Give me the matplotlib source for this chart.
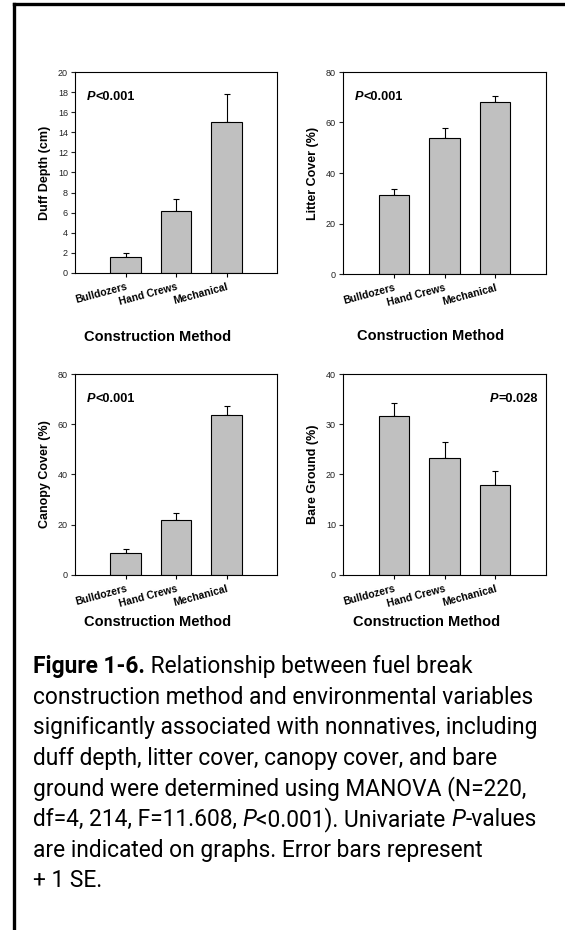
import matplotlib
matplotlib.use("Agg")
import matplotlib.pyplot as plt
from matplotlib.lines import Line2D

plt.rcParams['font.family'] = ['Liberation Sans', 'DejaVu Sans']

methods = ["Bulldozers", "Hand Crews", "Mechanical"]

duff = [1.6, 6.15, 15.05]
duff_se = [0.4, 1.22, 2.8]
litter = [31.2, 54.0, 68.1]
litter_se = [2.3, 3.8, 2.5]
canopy = [8.8, 21.7, 63.5]
canopy_se = [1.4, 3.1, 3.6]
bare = [31.7, 23.2, 18.0]
bare_se = [2.6, 3.3, 2.6]

ylabels = ["Duff Depth (cm)", "Litter Cover (%)", "Canopy Cover (%)", "Bare Ground (%)"]
ylims = [20, 80, 80, 40]
ysteps = [2, 20, 20, 10]
pvals = [("P", "<0.001"), ("P", "<0.001"), ("P", "<0.001"), ("P", "=0.028")]

caption = [
    [("Figure 1-6.", "bold", "normal"), (" Relationship between fuel break", "normal", "normal")],
    [("construction method and environmental variables", "normal", "normal")],
    [("significantly associated with nonnatives, including", "normal", "normal")],
    [("duff depth, litter cover, canopy cover, and bare", "normal", "normal")],
    [("ground were determined using MANOVA (N=220,", "normal", "normal")],
    [("df=4, 214, F=11.608, ", "normal", "normal"), ("P", "normal", "italic"),
     ("<0.001). Univariate ", "normal", "normal"), ("P", "normal", "italic"),
     ("-values", "normal", "normal")],
    [("are indicated on graphs. Error bars represent", "normal", "normal")],
    [("+ 1 SE.", "normal", "normal")],
]

W, H = 565, 930
fig = plt.figure(figsize=(W / 100, H / 100), dpi=100)
renderer = fig.canvas.get_renderer()


def draw_segments(x, y, segs, size, family, ha="left", va="center", transform=None):
    # draw text pieces one after another, measured in pixels
    tr = transform if transform is not None else fig.transFigure
    x0, y0 = tr.transform((x, y))
    pieces = []
    total = 0
    for txt, weight, style in segs:
        t = fig.text(0, 0, txt, fontsize=size, fontweight=weight, fontstyle=style,
                     family=family, va=va, ha="left", transform=None)
        w = t.get_window_extent(renderer).width
        pieces.append((t, w))
        total += w
    if ha == "right":
        x0 -= total
    for t, w in pieces:
        t.set_position((x0, y0))
        x0 += w
    return total


# (left, top, right, bottom) in pixels
boxes = [(75, 72, 277, 273), (343, 72, 546, 274), (75, 374, 277, 575), (343, 374, 546, 575)]
data = [(duff, duff_se), (litter, litter_se), (canopy, canopy_se), (bare, bare_se)]
xlab_gap = [64, 62, 47, 47]
xlab_cx = [158, 431, 158, 427]

for i in range(4):
    l, t, r, b = boxes[i]
    ax = fig.add_axes([l / W, 1 - b / H, (r - l) / W, (b - t) / H])
    vals, se = data[i]
    pos = [1, 2, 3]
    ax.bar(pos, vals, width=0.6, color="#c0c0c0", edgecolor="black", linewidth=0.8, zorder=2)
    ax.errorbar(pos, vals, yerr=[[0, 0, 0], se], fmt="none", ecolor="black",
                elinewidth=0.8, capsize=2.5, capthick=0.8, zorder=1)
    ax.set_xlim(0, 4)
    ax.set_ylim(0, ylims[i])
    ax.set_yticks(range(0, ylims[i] + 1, ysteps[i]))
    ax.set_xticks(pos)
    ax.set_xticklabels(methods, rotation=15, ha="right", rotation_mode="anchor",
                       fontsize=7.5, fontweight="bold")
    ax.tick_params(axis="y", labelsize=6.5, length=3, width=0.8, pad=2, colors="#222222")
    ax.tick_params(axis="x", length=3, width=0.8, pad=3)
    for s in ax.spines.values():
        s.set_linewidth(0.8)
    ax.set_ylabel(ylabels[i], fontsize=9, fontweight="bold", labelpad=5)
    fig.text(xlab_cx[i] / W, 1 - (b + xlab_gap[i]) / H, "Construction Method",
             fontsize=10.5, fontweight="bold", ha="center", va="center")
    p, rest = pvals[i]
    segs = [(p, "bold", "italic"), (rest, "bold", "normal")]
    if i == 3:
        draw_segments(0.96, 0.876, segs, 9.2, ['Liberation Sans', 'DejaVu Sans'],
                      ha="right", transform=ax.transAxes)
    else:
        draw_segments(0.06, 0.876, segs, 9.2, ['Liberation Sans', 'DejaVu Sans'],
                      transform=ax.transAxes)

# caption: size chosen so the widest line spans about 506 px
cap_family = ['Roboto', 'DejaVu Sans']
probe = fig.text(0, 0, caption[2][0][0], fontsize=10, family=cap_family, transform=None)
cap_size = 10 * 506 / probe.get_window_extent(renderer).width
probe.remove()
for k, segs in enumerate(caption):
    y = 673 + k * 30.6
    draw_segments(33 / W, 1 - y / H, segs, cap_size, cap_family, va="baseline")

# page border, top and left
fig.add_artist(Line2D([13.5 / W, 13.5 / W], [0, 1 - 4.5 / H], color="black", linewidth=2.4,
                      transform=fig.transFigure, solid_capstyle="projecting"))
fig.add_artist(Line2D([13.5 / W, 1], [1 - 4.5 / H, 1 - 4.5 / H], color="black", linewidth=2.4,
                      transform=fig.transFigure, solid_capstyle="projecting"))

fig.savefig("out.png", dpi=100)
